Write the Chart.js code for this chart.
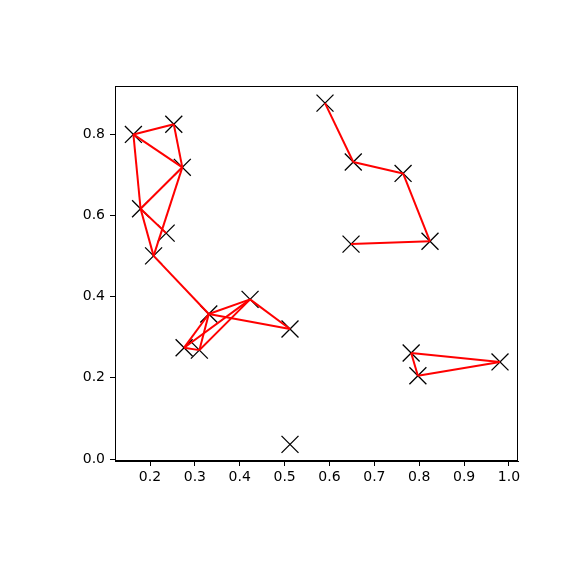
<!DOCTYPE html>
<html>
<head>
<meta charset="utf-8">
<script src="https://cdn.jsdelivr.net/npm/chart.js@4/dist/chart.umd.min.js"></script>
<style>
  html, body { margin: 0; padding: 0; background: #fff; }
  canvas { display: block; }
</style>
</head>
<body>
<canvas id="c" width="576" height="576"></canvas>
<script>
// Node positions
const xs = [0.163, 0.253, 0.272, 0.179, 0.236, 0.208, 0.590, 0.653, 0.764, 0.824,
            0.648, 0.331, 0.423, 0.512, 0.276, 0.310, 0.512, 0.782, 0.797, 0.980];
const ys = [0.799, 0.824, 0.718, 0.616, 0.556, 0.500, 0.876, 0.731, 0.703, 0.536,
            0.529, 0.357, 0.393, 0.320, 0.274, 0.268, 0.036, 0.261, 0.205, 0.239];
// Edges (pairs of node indices)
const edges = [[0,1],[0,2],[0,3],[1,2],[2,3],[2,5],[3,4],[3,5],[5,11],
               [11,12],[11,13],[12,13],[11,14],[11,15],[12,14],[12,15],[14,15],
               [6,7],[7,8],[8,9],[9,10],
               [17,18],[17,19],[18,19]];
// Axis ticks and limits
const xTicks = [0.2, 0.3, 0.4, 0.5, 0.6, 0.7, 0.8, 0.9, 1.0];
const yTicks = [0.0, 0.2, 0.4, 0.6, 0.8];
const xLim = [0.1220, 1.0201];
const yLim = [-0.0049, 0.9182];

const points = xs.map((x, i) => ({ x: x, y: ys[i] }));

const edgeSets = edges.map(([a, b]) => ({
  data: [points[a], points[b]],
  showLine: true,
  borderColor: '#ff0000',
  borderWidth: 2,
  pointRadius: 0,
  pointHoverRadius: 0,
  fill: false
}));

const nodeSet = {
  data: points,
  showLine: false,
  pointStyle: 'crossRot',
  pointRadius: 12,
  pointHoverRadius: 12,
  pointBorderColor: '#000',
  borderColor: '#000',
  pointBorderWidth: 1.3,
  backgroundColor: '#000'
};

const framePlugin = {
  id: 'frame',
  afterDraw(chart) {
    const a = chart.chartArea, ctx = chart.ctx;
    ctx.save();
    ctx.strokeStyle = '#000';
    ctx.lineWidth = 1;
    ctx.strokeRect(Math.round(a.left) + 0.5, Math.round(a.top) + 0.5,
                   Math.round(a.right - a.left) - 1, Math.round(a.bottom - a.top) - 1);
    ctx.restore();
  }
};

const tickFont = { family: 'DejaVu Sans', size: 14 };

new Chart(document.getElementById('c'), {
  type: 'scatter',
  data: { datasets: [...edgeSets, nodeSet] },
  options: {
    responsive: false,
    animation: false,
    devicePixelRatio: 1,
    layout: { padding: { left: 0, right: 58, top: 86, bottom: 0 } },
    plugins: { legend: { display: false }, tooltip: { enabled: false } },
    events: [],
    scales: {
      x: {
        type: 'linear',
        min: xLim[0], max: xLim[1],
        afterBuildTicks: s => { s.ticks = xTicks.map(v => ({ value: v })); },
        afterFit: s => { s.height = 115; },
        grid: { drawOnChartArea: false, drawTicks: true, tickLength: 5, color: '#000', lineWidth: 1 },
        border: { display: true, color: '#000', width: 1 },
        ticks: { color: '#000', font: tickFont, padding: 3, maxRotation: 0, autoSkip: false,
                 callback: v => Number(v).toFixed(1) }
      },
      y: {
        type: 'linear',
        min: yLim[0], max: yLim[1],
        afterBuildTicks: s => { s.ticks = yTicks.map(v => ({ value: v })); },
        afterFit: s => { s.width = 115; },
        grid: { drawOnChartArea: false, drawTicks: true, tickLength: 5, color: '#000', lineWidth: 1 },
        border: { display: true, color: '#000', width: 1 },
        ticks: { color: '#000', font: tickFont, padding: 5, autoSkip: false,
                 callback: v => Number(v).toFixed(1) }
      }
    }
  },
  plugins: [framePlugin]
});
</script>
</body>
</html>
